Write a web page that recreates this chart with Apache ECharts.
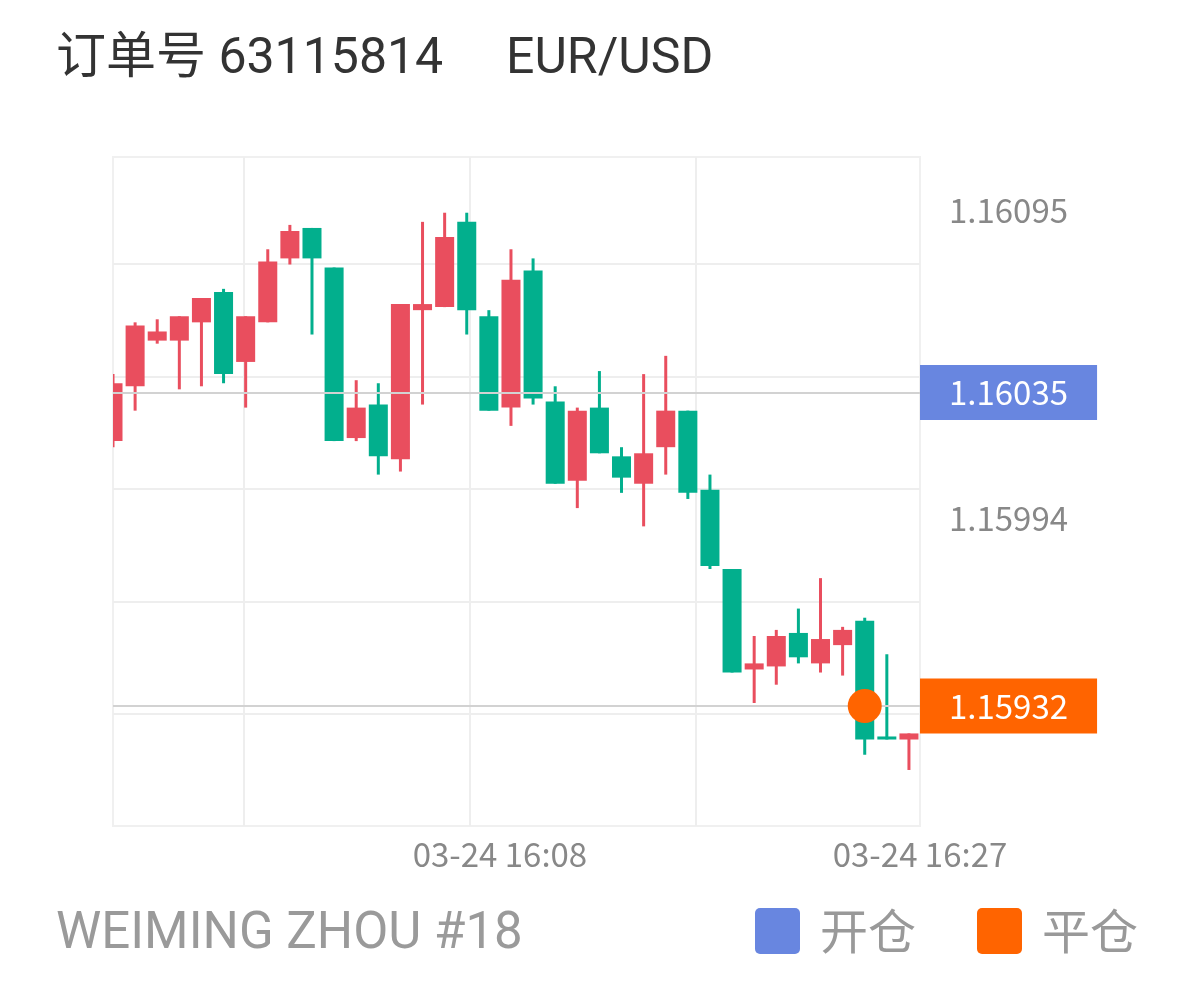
<!DOCTYPE html>
<html><head><meta charset="utf-8">
<script src="https://cdn.jsdelivr.net/npm/echarts@6/dist/echarts.min.js"></script>
<style>html,body{margin:0;padding:0;background:#fff}#c{width:1198px;height:990px}</style>
</head><body><div id="c"></div>
<script>
// ---- data ----
const times = ['15:50','15:51','15:52','15:53','15:54','15:55','15:56','15:57','15:58','15:59',
  '16:00','16:01','16:02','16:03','16:04','16:05','16:06','16:07','16:08','16:09',
  '16:10','16:11','16:12','16:13','16:14','16:15','16:16','16:17','16:18','16:19',
  '16:20','16:21','16:22','16:23','16:24','16:25','16:26'];
const opens  = [1.16019,1.16037,1.16052,1.16052,1.16058,1.16068,1.16045,1.16058,1.16079,1.16089,
  1.16076,1.16020,1.16031,1.16013,1.16062,1.16063,1.16091,1.16060,1.16030,1.16075,
  1.16032,1.16006,1.16030,1.16014,1.16005,1.16017,1.16029,1.16003,1.15977,1.15944,
  1.15945,1.15956,1.15946,1.15952,1.15960,1.15922,1.15921];
const closes = [1.16038,1.16057,1.16055,1.16060,1.16066,1.16041,1.16060,1.16078,1.16088,1.16079,
  1.16019,1.16030,1.16014,1.16064,1.16064,1.16086,1.16062,1.16029,1.16072,1.16033,
  1.16005,1.16029,1.16015,1.16007,1.16015,1.16029,1.16002,1.15978,1.15943,1.15946,
  1.15955,1.15948,1.15954,1.15957,1.15921,1.15921,1.15923];
const lows   = [1.16017,1.16029,1.16051,1.16036,1.16037,1.16038,1.16030,1.16058,1.16077,1.16054,
  1.16019,1.16019,1.16008,1.16009,1.16031,1.16063,1.16054,1.16029,1.16024,1.16031,
  1.16005,1.15997,1.16015,1.16002,1.15991,1.16008,1.16000,1.15977,1.15943,1.15933,
  1.15939,1.15946,1.15943,1.15942,1.15916,1.15921,1.15911];
const highs  = [1.16041,1.16058,1.16059,1.16060,1.16066,1.16069,1.16060,1.16082,1.16090,1.16089,
  1.16076,1.16039,1.16038,1.16064,1.16091,1.16094,1.16094,1.16062,1.16082,1.16079,
  1.16037,1.16030,1.16042,1.16017,1.16041,1.16047,1.16029,1.16008,1.15977,1.15955,
  1.15957,1.15964,1.15974,1.15958,1.15961,1.15949,1.15923];
const openPrice = 1.16035;
const closePrice = 1.15932;
const closeTime = '16:24';
const yTickLabels = ['1.16095', '1.15994'];
const xTickLabels = ['16:08', '16:27'];
const dateLabel = '03-24';
const orderTitle = '订单号 63115814';
const symbolName = 'EUR/USD';
const accountName = 'WEIMING ZHOU #18';
const legendNames = ['开仓', '平仓'];

// ---- axis settings ----
const yMin = 1.158926, yMax = 1.161123;
const yLabelStep = 0.00101;
const yGridStep = 0.000369;
const xEnd = '16:27';

const toMin = s => { const p = s.split(':'); return (+p[0]) * 60 + (+p[1]); };
const pad = n => (n < 10 ? '0' : '') + n;
const fromMin = m => pad(Math.floor(m / 60)) + ':' + pad(m % 60);

const candleData = times.map((t, i) => [toMin(t) + 0.5, opens[i], closes[i], lows[i], highs[i]]);

const RED = '#E94E5E', GREEN = '#02AF8D', BLUE = '#6886E0', ORANGE = '#FF6400';
const FONT = '"Noto Sans CJK SC", "Noto Sans", sans-serif';
const TFONT = 'Roboto, "Noto Sans CJK SC"';

function renderCandle(params, api) {
  const x = api.value(0), o = api.value(1), c = api.value(2), l = api.value(3), h = api.value(4);
  const pO = api.coord([x, o]), pC = api.coord([x, c]), pL = api.coord([x, l]), pH = api.coord([x, h]);
  const w = api.size([1, 0])[0] * 0.86;
  const color = c > o ? RED : GREEN;
  const top = Math.min(pO[1], pC[1]), bot = Math.max(pO[1], pC[1]);
  const bh = Math.max(bot - top, 3);
  return {
    type: 'group',
    children: [
      {type: 'line', shape: {x1: pH[0], y1: pH[1], x2: pL[0], y2: pL[1]}, style: {stroke: color, lineWidth: 3}},
      {type: 'rect', shape: {x: pO[0] - w / 2, y: (top + bot) / 2 - bh / 2, width: w, height: bh}, style: {fill: color}}
    ]
  };
}

const chart = echarts.init(document.getElementById('c'), null, {renderer: 'canvas'});
chart.setOption({
  animation: false,
  backgroundColor: '#fff',
  title: [
    {text: orderTitle, left: 51, top: 31, textStyle: {fontFamily: TFONT, fontSize: 50, fontWeight: 'normal', color: '#333'}},
    {text: symbolName, left: 501, top: 31, textStyle: {fontFamily: TFONT, fontSize: 50, fontWeight: 'normal', color: '#333'}},
    {text: accountName, left: 51, top: 905, textStyle: {fontFamily: TFONT, fontSize: 51, fontWeight: 'normal', color: '#9a9a9a'}}
  ],
  legend: {
    data: [{name: legendNames[0], itemStyle: {color: BLUE, opacity: 1}}, {name: legendNames[1], itemStyle: {color: ORANGE, opacity: 1}}],
    right: 60, top: 907, itemWidth: 45, itemHeight: 46, itemGap: 61, padding: 0,
    icon: 'path://M5,0 H40 A5,5 0 0 1 45,5 V41 A5,5 0 0 1 40,46 H5 A5,5 0 0 1 0,41 V5 A5,5 0 0 1 5,0 Z',
    textStyle: {fontFamily: FONT, fontSize: 48, color: '#999', padding: [0, 0, 0, 15]},
    selectedMode: false
  },
  grid: [
    {left: 113, right: 278, top: 157, bottom: 164, show: true, borderColor: '#f0f0f0', borderWidth: 2, backgroundColor: 'transparent'},
    {left: 18, right: 276, top: 157, bottom: 164, show: false}
  ],
  xAxis: [
    {type: 'value', gridIndex: 0, min: toMin(times[0]) + 0.5, max: toMin(xEnd), interval: 0.5,
      axisLine: {show: false}, axisTick: {show: false}, splitLine: {show: false},
      axisLabel: {margin: 12, fontFamily: FONT, fontSize: 33, color: '#888',
        formatter: v => { if (!Number.isInteger(v)) return ''; const s = fromMin(v); return xTickLabels.indexOf(s) >= 0 ? dateLabel + ' ' + s : ''; }}
    },
    {type: 'value', gridIndex: 1, min: 0, max: 4, interval: 1,
      axisLine: {show: false}, axisTick: {show: false}, axisLabel: {show: false},
      splitLine: {show: true, showMinLine: false, showMaxLine: false, lineStyle: {color: '#eeeeee', width: 2}}}
  ],
  yAxis: [
    {type: 'value', gridIndex: 0, position: 'right', min: yMin, max: yMax, interval: yLabelStep,
      axisLine: {show: false}, axisTick: {show: false}, splitLine: {show: false},
      axisLabel: {margin: 29, fontFamily: FONT, fontSize: 33, color: '#888',
        formatter: v => { const s = v.toFixed(5); return yTickLabels.indexOf(s) >= 0 ? s : ''; }}
    },
    {type: 'value', gridIndex: 0, position: 'left', min: yMin, max: yMax, interval: yGridStep,
      axisLine: {show: false}, axisTick: {show: false}, axisLabel: {show: false},
      splitLine: {show: true, showMinLine: false, showMaxLine: false, lineStyle: {color: '#eeeeee', width: 2}}},
    {type: 'value', gridIndex: 1, show: false, min: 0, max: 1}
  ],
  series: [
    {
      name: 'K', type: 'custom', xAxisIndex: 0, yAxisIndex: 0, clip: true,
      data: candleData, encode: {x: 0, y: [1, 2, 3, 4]},
      renderItem: renderCandle
    },
    {name: legendNames[0], type: 'scatter', xAxisIndex: 0, yAxisIndex: 0, data: [], itemStyle: {color: BLUE, opacity: 1}},
    {name: legendNames[1], type: 'scatter', xAxisIndex: 0, yAxisIndex: 0, z: 6, symbolSize: 34,
      itemStyle: {color: ORANGE, opacity: 1}, data: [[toMin(closeTime) + 0.5, closePrice]],
      markLine: {
        silent: true, symbol: ['none', 'none'], z: 4, precision: 5,
        lineStyle: {color: '#d2d2d2', width: 2, type: 'solid'},
        label: {position: 'end', distance: 0, fontFamily: FONT, fontSize: 33, lineHeight: 35, color: '#fff', padding: [10, 29, 10, 29],
          formatter: p => Number(p.value).toFixed(5)},
        data: [
          {yAxis: openPrice, label: {backgroundColor: BLUE}},
          {yAxis: closePrice, label: {backgroundColor: ORANGE}}
        ]
      }
    }
  ]
});
</script></body></html>
